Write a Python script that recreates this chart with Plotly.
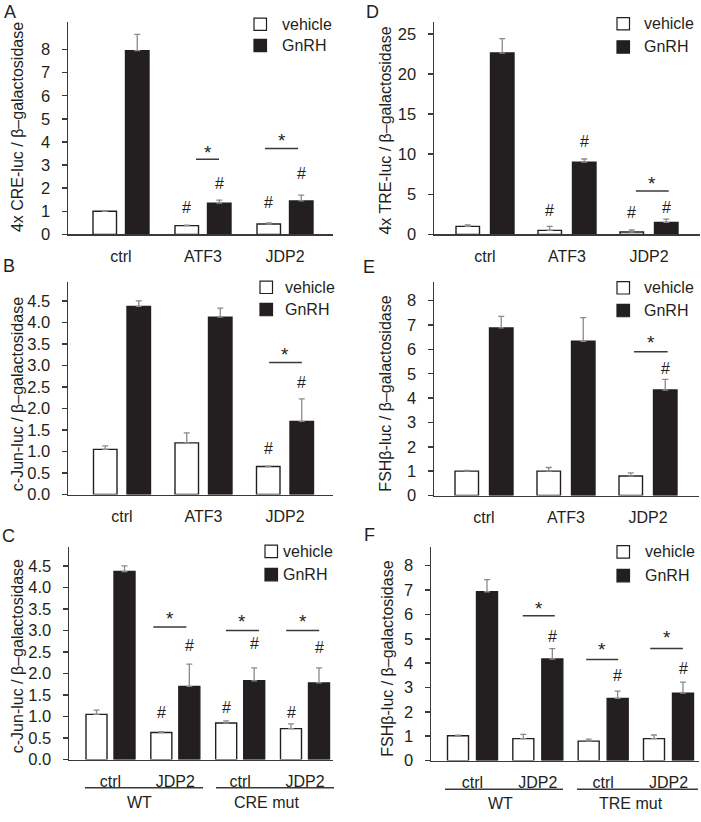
import plotly.graph_objects as go

W, H = 701, 822
FONT = "Liberation Sans, Arial, Helvetica, sans-serif"
INK = "#231f20"
AXC = "#3a3a3a"
ERRC = "#8a8a8a"

# ---------------- data ----------------
# Panel A: 4x CRE-luc
cats_A = ["ctrl", "ATF3", "JDP2"]
yticks_A = [0, 1, 2, 3, 4, 5, 6, 7, 8]
veh_A = [1.00, 0.38, 0.45]
veh_err_A = [0.03, 0.02, 0.05]
gnrh_A = [7.95, 1.35, 1.45]
gnrh_err_A = [0.70, 0.13, 0.25]
hash_A = [(1, "veh", 1.15), (1, "gnrh", 2.2), (2, "veh", 1.4), (2, "gnrh", 2.65)]
star_A = [(1, -0.085, 0.195, 3.25, 3.75), (2, -0.244, 0.159, 3.72, 4.27)]

# Panel B: c-Jun-luc
cats_B = ["ctrl", "ATF3", "JDP2"]
yticks_B = [0.0, 0.5, 1.0, 1.5, 2.0, 2.5, 3.0, 3.5, 4.0, 4.5]
veh_B = [1.05, 1.20, 0.65]
veh_err_B = [0.08, 0.23, 0.01]
gnrh_B = [4.37, 4.12, 1.70]
gnrh_err_B = [0.13, 0.21, 0.52]
hash_B = [(2, "veh", 1.08), (2, "gnrh", 2.6)]
star_B = [(2, -0.195, 0.207, 3.07, 3.38)]

# Panel C: c-Jun-luc, WT vs CRE mut
cats_C = ["WT ctrl", "WT JDP2", "CRE mut ctrl", "CRE mut JDP2"]
ticks_C = ["ctrl", "JDP2", "ctrl", "JDP2"]
groups_C = ["WT", "CRE mut"]
yticks_C = [0.0, 0.5, 1.0, 1.5, 2.0, 2.5, 3.0, 3.5, 4.0, 4.5]
veh_C = [1.05, 0.63, 0.85, 0.72]
veh_err_C = [0.10, 0.02, 0.05, 0.11]
gnrh_C = [4.37, 1.70, 1.83, 1.78]
gnrh_err_C = [0.13, 0.52, 0.30, 0.35]
hash_C = [(1, "veh", 1.1), (1, "gnrh", 2.64), (2, "veh", 1.22), (2, "gnrh", 2.7),
          (3, "veh", 1.1), (3, "gnrh", 2.6)]
star_C = [(1, -0.34, 0.17, 3.08, 3.4), (2, -0.22, 0.29, 3.0, 3.33), (3, -0.29, 0.22, 3.0, 3.33)]

# Panel D: 4x TRE-luc
cats_D = ["ctrl", "ATF3", "JDP2"]
yticks_D = [0, 5, 10, 15, 20, 25]
veh_D = [1.0, 0.5, 0.3]
veh_err_D = [0.2, 0.5, 0.25]
gnrh_D = [22.6, 9.0, 1.5]
gnrh_err_D = [1.8, 0.4, 0.4]
hash_D = [(1, "veh", 3.0), (1, "gnrh", 11.6), (2, "veh", 2.7), (2, "gnrh", 3.3)]
star_D = [(2, -0.16, 0.24, 5.4, 7.0)]

# Panel E: FSHβ-luc
cats_E = ["ctrl", "ATF3", "JDP2"]
yticks_E = [0, 1, 2, 3, 4, 5, 6, 7, 8]
veh_E = [1.0, 1.0, 0.8]
veh_err_E = [0.03, 0.15, 0.13]
gnrh_E = [6.88, 6.33, 4.33]
gnrh_err_E = [0.47, 0.97, 0.44]
hash_E = [(2, "gnrh", 5.2)]
star_E = [(2, -0.17, 0.24, 5.9, 6.5)]

# Panel F: FSHβ-luc, WT vs TRE mut
cats_F = ["WT ctrl", "WT JDP2", "TRE mut ctrl", "TRE mut JDP2"]
ticks_F = ["ctrl", "JDP2", "ctrl", "JDP2"]
groups_F = ["WT", "TRE mut"]
yticks_F = [0, 1, 2, 3, 4, 5, 6, 7, 8]
veh_F = [1.02, 0.90, 0.80, 0.90]
veh_err_F = [0.02, 0.18, 0.08, 0.15]
gnrh_F = [6.93, 4.17, 2.55, 2.77]
gnrh_err_F = [0.50, 0.43, 0.30, 0.45]
hash_F = [(1, "gnrh", 5.1), (2, "gnrh", 3.5), (3, "gnrh", 3.8)]
star_F = [(1, -0.23, 0.26, 5.95, 6.45), (2, -0.26, 0.23, 4.15, 4.75), (3, -0.28, 0.22, 4.6, 5.25)]

series_names = ["vehicle", "GnRH"]

# ---------------- layout geometry (pixels) ----------------
def PX(x):
    return x / W


def PY(y):
    return 1 - y / H


panels = [
    dict(key="A", cats=cats_A, ticks=cats_A, yt=yticks_A, veh=veh_A, ve=veh_err_A, gn=gnrh_A, ge=gnrh_err_A,
         hashes=hash_A, stars=star_A, ax=68, right=333, base=237, top=22, c0=121, c1=285,
         bw=23.5, gap=9, ymax=9.2, fmt="d",
         title="4x CRE-luc / β–galactosidase", tx=17.5, ty=129,
         leg=(254, 24.5, 46, 280), letter=(10, 12.5)),
    dict(key="B", cats=cats_B, ticks=cats_B, yt=yticks_B, veh=veh_B, ve=veh_err_B, gn=gnrh_B, ge=gnrh_err_B,
         hashes=hash_B, stars=star_B, ax=68, right=333, base=500, top=285, c0=122, c1=285,
         bw=23.5, gap=10, ymax=4.94, fmt=".1f",
         title="c-Jun-luc / β–galactosidase", tx=17.5, ty=399,
         leg=(260, 290.5, 313, 283), letter=(9, 269)),
    dict(key="C", cats=cats_C, ticks=ticks_C, yt=yticks_C, veh=veh_C, ve=veh_err_C, gn=gnrh_C, ge=gnrh_err_C,
         hashes=hash_C, stars=star_C, ax=69, right=333, base=768, top=553, c0=110.5, c1=305,
         bw=21, gap=7, ymax=4.94, fmt=".1f",
         title="c-Jun-luc / β–galactosidase", tx=17.5, ty=664,
         leg=(265, 557.5, 581, 281), letter=(8, 542),
         groups=groups_C, under=[(85, 203), (216, 334)], under_y=796.5,
         glab=[139, 266], glab_y=811),
    dict(key="D", cats=cats_D, ticks=cats_D, yt=yticks_D, veh=veh_D, ve=veh_err_D, gn=gnrh_D, ge=gnrh_err_D,
         hashes=hash_D, stars=star_D, ax=434, right=700, base=237, top=22, c0=485, c1=649,
         bw=23.5, gap=11, ymax=26.5, fmt="d",
         title="4x TRE-luc / β–galactosidase", tx=386, ty=132,
         leg=(617, 24, 47.5, 642), letter=(372, 12.5)),
    dict(key="E", cats=cats_E, ticks=cats_E, yt=yticks_E, veh=veh_E, ve=veh_err_E, gn=gnrh_E, ge=gnrh_err_E,
         hashes=hash_E, stars=star_E, ax=434, right=699, base=501, top=285, c0=484, c1=648,
         bw=23.5, gap=11, ymax=8.77, fmt="d",
         title="FSHβ-luc / β–galactosidase", tx=386, ty=398,
         leg=(617, 291, 314, 642), letter=(369, 270)),
    dict(key="F", cats=cats_F, ticks=ticks_F, yt=yticks_F, veh=veh_F, ve=veh_err_F, gn=gnrh_F, ge=gnrh_err_F,
         hashes=hash_F, stars=star_F, ax=431, right=699, base=769, top=553, c0=472.5, c1=668.5,
         bw=21, gap=8, ymax=8.77, fmt="d",
         title="FSHβ-luc / β–galactosidase", tx=388, ty=666,
         leg=(617, 558, 582, 643), letter=(370, 541),
         groups=groups_F, under=[(445, 563), (577, 698)], under_y=798,
         glab=[500, 631], glab_y=812.5),
]

fig = go.Figure()
annotations = []
shapes = []
layout_axes = {}
TICKFONT = dict(family=FONT, size=16.5, color=INK)
TXTFONT = dict(family=FONT, size=16, color=INK)
STARFONT = dict(family=FONT, size=19, color=INK)

for i, p in enumerate(panels, start=1):
    xs = "x" if i == 1 else f"x{i}"
    ys = "y" if i == 1 else f"y{i}"
    xk = "xaxis" if i == 1 else f"xaxis{i}"
    yk = "yaxis" if i == 1 else f"yaxis{i}"
    n = len(p["cats"])
    sp = (p["c1"] - p["c0"]) / (n - 1)
    r0 = -(p["c0"] - p["ax"]) / sp
    r1 = (n - 1) + (p["right"] - p["c1"]) / sp
    bw = p["bw"] / sp
    half_gap = p["gap"] / 2 / sp
    off = {"veh": -(half_gap + bw), "gnrh": half_gap}
    ctr = {"veh": -(half_gap + bw / 2), "gnrh": half_gap + bw / 2}

    for s, vals, errs, fill in (("veh", p["veh"], p["ve"], "white"), ("gnrh", p["gn"], p["ge"], INK)):
        fig.add_trace(go.Bar(
            x=p["cats"], y=vals, name=series_names[0 if s == "veh" else 1],
            xaxis=xs, yaxis=ys, width=bw, offset=off[s],
            marker=dict(color=fill, line=dict(color=INK, width=1.4)),
            error_y=dict(type="data", array=errs, arrayminus=[0] * n, symmetric=False,
                         color=ERRC, thickness=1.3, width=3),
            showlegend=False, hoverinfo="skip",
        ))

    layout_axes[xk] = dict(
        domain=[PX(p["ax"]), PX(p["right"])], anchor=ys, type="category",
        categoryorder="array", categoryarray=p["cats"], range=[r0, r1],
        tickmode="array", tickvals=p["cats"], ticktext=p["ticks"],
        showline=True, linecolor=AXC, linewidth=1.5, ticks="", showgrid=False, zeroline=False,
        tickfont=TXTFONT, ticklabelstandoff=7, fixedrange=True,
    )
    layout_axes[yk] = dict(
        domain=[PY(p["base"]), PY(p["top"])], anchor=xs, range=[0, p["ymax"]],
        tickmode="array", tickvals=p["yt"], ticktext=[format(v, p["fmt"]) for v in p["yt"]],
        showline=True, linecolor=AXC, linewidth=1.5, ticks="outside", ticklen=5,
        tickwidth=1.5, tickcolor=AXC, showgrid=False, zeroline=False,
        tickfont=TICKFONT, ticklabelstandoff=8, fixedrange=True,
    )

    # significance marks
    for (ci, s, yv) in p["hashes"]:
        annotations.append(dict(x=ci + ctr[s], y=yv, xref=xs, yref=ys, text="#", showarrow=False,
                                font=TXTFONT, xanchor="center", yanchor="middle"))
    for (ci, a0, a1, yl, yst) in p["stars"]:
        shapes.append(dict(type="line", xref=xs, yref=ys, x0=ci + a0, x1=ci + a1, y0=yl, y1=yl,
                           line=dict(color=AXC, width=1.5)))
        annotations.append(dict(x=ci + (a0 + a1) / 2, y=yst, xref=xs, yref=ys, text="*",
                                showarrow=False, font=STARFONT,
                                xanchor="center", yanchor="middle", yshift=-5))

    # y-axis title
    annotations.append(dict(x=PX(p["tx"]), y=PY(p["ty"]), xref="paper", yref="paper",
                            text=p["title"], textangle=-90, showarrow=False, font=TXTFONT,
                            xanchor="center", yanchor="middle"))
    # panel letter
    annotations.append(dict(x=PX(p["letter"][0]), y=PY(p["letter"][1]), xref="paper", yref="paper",
                            text=p["key"], showarrow=False,
                            font=dict(family=FONT, size=18, color=INK),
                            xanchor="center", yanchor="middle"))
    # custom legend
    lx, ry1, ry2, tx = p["leg"]
    sq = 12.5
    for ry, fill, label in ((ry1, "white", series_names[0]), (ry2, INK, series_names[1])):
        shapes.append(dict(type="rect", xref="paper", yref="paper",
                           x0=PX(lx), x1=PX(lx + sq), y0=PY(ry + sq / 2), y1=PY(ry - sq / 2),
                           fillcolor=fill, line=dict(color=INK, width=1.2)))
        annotations.append(dict(x=PX(tx), y=PY(ry), xref="paper", yref="paper", text=label,
                                showarrow=False, font=TXTFONT,
                                xanchor="left", yanchor="middle"))
    # group underlines + group labels
    if "groups" in p:
        for (u0, u1), gx, g in zip(p["under"], p["glab"], p["groups"]):
            shapes.append(dict(type="line", xref="paper", yref="paper",
                               x0=PX(u0), x1=PX(u1), y0=PY(p["under_y"]), y1=PY(p["under_y"]),
                               line=dict(color=AXC, width=1.5)))
            annotations.append(dict(x=PX(gx), y=PY(p["glab_y"]), xref="paper", yref="paper",
                                    text=g, showarrow=False, font=TXTFONT,
                                    xanchor="center", yanchor="middle"))

fig.update_layout(
    width=W, height=H, margin=dict(l=0, r=0, t=0, b=0),
    paper_bgcolor="white", plot_bgcolor="white",
    barmode="group", showlegend=False, hovermode=False,
    annotations=annotations, shapes=shapes,
    font=dict(family=FONT, size=16, color=INK),
    **layout_axes,
)

fig.write_html("out.html", config={"displayModeBar": False, "staticPlot": True},
               post_script="document.body.style.margin='0px';document.body.style.padding='0px';")
